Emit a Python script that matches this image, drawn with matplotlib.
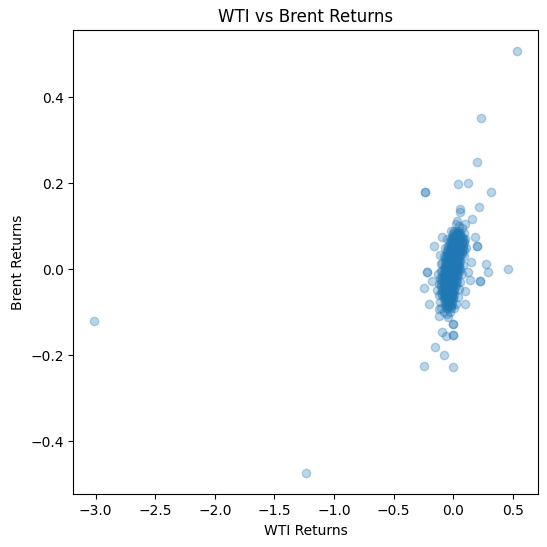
import matplotlib
matplotlib.use('Agg')
import matplotlib.pyplot as plt
import numpy as np

# dense core of daily returns: one row per Brent level, WTI values along the row
core_row_y = [0.09, 0.08, 0.07, 0.06, 0.05, 0.04, 0.03, 0.02, 0.01, 0.00,
              -0.01, -0.02, -0.03, -0.04, -0.05, -0.06, -0.07, -0.08, -0.09]
core_row_x = [
    [0.01, 0.03, 0.05],
    [0.0, 0.02, 0.04, 0.06],
    [-0.02, 0.0, 0.02, 0.04, 0.06, 0.08],
    [-0.03, -0.01, 0.01, 0.03, 0.05, 0.07, 0.09],
    [-0.04, -0.02, 0.0, 0.02, 0.04, 0.06, 0.08],
    [-0.05, -0.03, -0.01, 0.01, 0.03, 0.05, 0.07],
    [-0.06, -0.04, -0.02, 0.0, 0.02, 0.04, 0.06],
    [-0.06, -0.04, -0.02, 0.0, 0.02, 0.04, 0.06],
    [-0.07, -0.05, -0.03, -0.01, 0.01, 0.03, 0.05],
    [-0.08, -0.06, -0.04, -0.02, 0.0, 0.02, 0.04, 0.06],
    [-0.08, -0.06, -0.04, -0.02, 0.0, 0.02, 0.04],
    [-0.09, -0.07, -0.05, -0.03, -0.01, 0.01, 0.03],
    [-0.09, -0.07, -0.05, -0.03, -0.01, 0.01, 0.03],
    [-0.10, -0.08, -0.06, -0.04, -0.02, 0.0, 0.02],
    [-0.09, -0.07, -0.05, -0.03, -0.01, 0.01],
    [-0.09, -0.07, -0.05, -0.03, -0.01, 0.01],
    [-0.08, -0.06, -0.04, -0.02, 0.0],
    [-0.07, -0.05, -0.03, -0.01],
    [-0.06, -0.04, -0.02],
]

# in-between Brent levels of the core
mid_row_y = [0.085, 0.075, 0.065, 0.055, 0.045, 0.035, 0.025, 0.015, 0.005,
             -0.005, -0.015, -0.025, -0.035, -0.045, -0.055, -0.065, -0.075,
             -0.085]
mid_row_x = [
    [0.0, 0.02, 0.04, 0.06],
    [-0.01, 0.01, 0.03, 0.05, 0.07],
    [-0.03, -0.01, 0.01, 0.03, 0.05, 0.07, 0.09],
    [-0.04, -0.02, 0.0, 0.02, 0.04, 0.06, 0.08],
    [-0.05, -0.03, -0.01, 0.01, 0.03, 0.05, 0.07, 0.09],
    [-0.05, -0.03, -0.01, 0.01, 0.03, 0.05, 0.07],
    [-0.07, -0.05, -0.03, -0.01, 0.01, 0.03, 0.05],
    [-0.07, -0.05, -0.03, -0.01, 0.01, 0.03, 0.05],
    [-0.07, -0.05, -0.03, -0.01, 0.01, 0.03, 0.05],
    [-0.09, -0.07, -0.05, -0.03, -0.01, 0.01, 0.03, 0.05],
    [-0.09, -0.07, -0.05, -0.03, -0.01, 0.01, 0.03],
    [-0.10, -0.08, -0.06, -0.04, -0.02, 0.0, 0.02],
    [-0.10, -0.08, -0.06, -0.04, -0.02, 0.0, 0.02],
    [-0.09, -0.07, -0.05, -0.03, -0.01, 0.01],
    [-0.10, -0.08, -0.06, -0.04, -0.02, 0.0],
    [-0.08, -0.06, -0.04, -0.02, 0.0],
    [-0.07, -0.05, -0.03, -0.01],
    [-0.06, -0.04, -0.02],
]

# halo just outside the core
wti_edge = [0.02, 0.05, 0.07, -0.02, 0.09, -0.05, 0.10, -0.07, 0.11, -0.08,
            0.09, -0.09, 0.08, -0.10, 0.07, -0.11, 0.06, -0.12, 0.05, -0.12,
            0.04, -0.11, 0.02, -0.10, 0.01, -0.08, -0.03, -0.05]
brent_edge = [0.105, 0.10, 0.095, 0.09, 0.085, 0.07, 0.07, 0.05, 0.05, 0.03,
              0.03, 0.015, 0.01, -0.005, -0.01, -0.02, -0.03, -0.035, -0.045,
              -0.06, -0.065, -0.075, -0.08, -0.09, -0.09, -0.10, -0.10, -0.105]

# scattered points around the core and the big outliers
wti_outer = [0.534, 0.237, 0.198, 0.039, 0.123, -0.238, -0.238, 0.316, 0.215,
             0.061, 0.053, 0.159, 0.034, 0.095, -0.098, -0.163, 0.198, 0.198,
             0.179, -0.107, 0.151, 0.277, 0.456, 0.29, -0.221, -0.221, -0.18,
             -0.241, 0.221, 0.221, 0.137, 0.095, -0.129, -0.134, -0.1, 0.123,
             0.103, -0.199, -0.115, -0.115, -0.045, -0.003, -0.003, -0.003,
             -0.003, -0.092, -0.059, -0.151, -0.079, -0.249, -0.003, -3.01,
             -1.239]
brent_outer = [0.506, 0.351, 0.248, 0.199, 0.201, 0.180, 0.180, 0.180, 0.145,
               0.139, 0.133, 0.117, 0.113, 0.106, 0.075, 0.054, 0.054, 0.054,
               0.075, 0.032, 0.016, 0.013, 0.001, -0.007, -0.007, -0.007, -0.027,
               -0.043, -0.027, -0.027, -0.025, -0.051, -0.011, -0.048, 0.012,
               -0.007, -0.081, -0.081, -0.108, -0.093, -0.112, -0.127, -0.127,
               -0.153, -0.153, -0.146, -0.155, -0.180, -0.198, -0.224, -0.226,
               -0.121, -0.474]

wti = list(wti_outer) + list(wti_edge)
brent = list(brent_outer) + list(brent_edge)
for rows_y, rows_x in [(core_row_y, core_row_x), (mid_row_y, mid_row_x)]:
    for yv, xs in zip(rows_y, rows_x):
        wti += xs
        brent += [yv] * len(xs)

plt.figure(figsize=(5.47, 5.47), dpi=100)
plt.subplots_adjust(left=0.134, right=0.9835, top=0.9446, bottom=0.0961)
plt.scatter(wti, brent, alpha=0.3)
plt.title('WTI vs Brent Returns')
plt.xlabel('WTI Returns')
plt.ylabel('Brent Returns')
plt.savefig('out.png', dpi=100)
